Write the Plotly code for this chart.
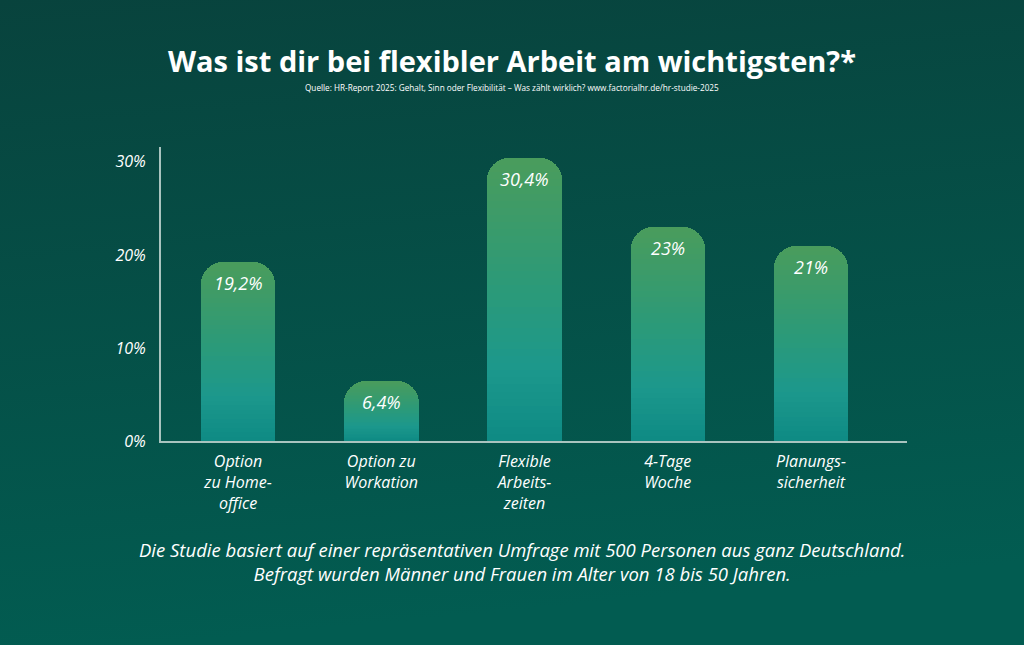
import base64
import plotly.graph_objects as go

categories = ["Option<br>zu Home-<br>office", "Option zu<br>Workation", "Flexible<br>Arbeits-<br>zeiten", "4-Tage<br>Woche", "Planungs-<br>sicherheit"]
values = [19.2, 6.4, 30.4, 23.0, 21.0]
value_labels = ["19,2%", "6,4%", "30,4%", "23%", "21%"]
tick_vals = [0, 10, 20, 30]
tick_text = ["0%", "10%", "20%", "30%"]

title = "Was ist dir bei flexibler Arbeit am wichtigsten?*"
source = "Quelle: HR-Report 2025: Gehalt, Sinn oder Flexibilität – Was zählt wirklich? www.factorialhr.de/hr-studie-2025"
footer = "Die Studie basiert auf einer repräsentativen Umfrage mit 500 Personen aus ganz Deutschland.<br>Befragt wurden Männer und Frauen im Alter von 18 bis 50 Jahren."

FONT = "Open Sans"

# colour stops from bottom (0) to top (1)
stops = [(0.0, (14, 138, 132)), (0.25, (28, 152, 140)), (0.55, (44, 154, 120)), (1.0, (74, 156, 92))]


def colour_at(t):
    for (t0, c0), (t1, c1) in zip(stops[:-1], stops[1:]):
        if t <= t1:
            u = (t - t0) / (t1 - t0)
            c = [round(a + (b - a) * u) for a, b in zip(c0, c1)]
            return "rgb(%d,%d,%d)" % tuple(c)
    return "rgb(%d,%d,%d)" % stops[-1][1]


fig = go.Figure()
N = 40
for k in range(N):
    f = 1 - k / N
    mid = f - 0.5 / N
    fig.add_trace(go.Bar(
        x=list(range(len(values))),
        y=[v * f for v in values],
        width=0.52,
        marker=dict(color=colour_at(mid), line=dict(width=0), cornerradius=22),
        hoverinfo="skip",
        showlegend=False,
    ))

for i, (v, lab) in enumerate(zip(values, value_labels)):
    fig.add_annotation(x=i, y=v, text=lab, showarrow=False, yanchor="top", yshift=-7,
                       font=dict(family=FONT, size=18, color="white", style="italic"))

svg = ('<svg xmlns="http://www.w3.org/2000/svg" width="1024" height="645">'
       '<defs><linearGradient id="g" x1="0" y1="0" x2="0.15" y2="1">'
       '<stop offset="0" stop-color="#08433d"/><stop offset="1" stop-color="#025c51"/>'
       '</linearGradient></defs><rect width="1024" height="645" fill="url(#g)"/></svg>')
src = "data:image/svg+xml;base64," + base64.b64encode(svg.encode()).decode()

W, H = 746, 294
L, T = 161, 147


def px(x):
    return (x - L) / W


def py(y):
    return 1 - (y - T) / H


fig.update_layout(
    width=1024, height=645,
    margin=dict(l=L, r=1024 - L - W, t=T, b=645 - T - H),
    paper_bgcolor="#064b44", plot_bgcolor="rgba(0,0,0,0)",
    barmode="overlay", bargap=0,
    images=[dict(source=src, xref="paper", yref="paper", x=px(0), y=py(0),
                 sizex=1024 / W, sizey=645 / H, xanchor="left", yanchor="top",
                 sizing="stretch", layer="below")],
    xaxis=dict(range=[-0.5375, 4.67], tickvals=list(range(len(categories))), ticktext=categories,
               showline=True, linecolor="#a9c4bf", linewidth=2, showgrid=False, zeroline=False,
               ticks="", ticklabelstandoff=5,
               tickfont=dict(family=FONT, size=16, color="white", style="italic")),
    yaxis=dict(range=[0, 31.6], tickvals=tick_vals, ticktext=tick_text, showgrid=False, zeroline=False,
               showline=True, linecolor="#a9c4bf", linewidth=2, ticks="", ticklabelstandoff=10,
               tickfont=dict(family=FONT, size=16, color="white", style="italic")),
    font=dict(family=FONT, color="white"),
    showlegend=False,
)

fig.add_annotation(text=title, xref="paper", yref="paper", x=px(512), y=py(60), yanchor="middle",
                   showarrow=False, font=dict(family=FONT, size=29, color="white", weight="bold"))
fig.add_annotation(text=source, xref="paper", yref="paper", x=px(512), y=py(88), yanchor="middle",
                   showarrow=False, font=dict(family=FONT, size=8.2, color="white"))
fig.add_annotation(text=footer, xref="paper", yref="paper", x=px(522), y=py(561), yanchor="middle",
                   showarrow=False, font=dict(family=FONT, size=18.5, color="white", style="italic"))

fig.write_html("out.html")
